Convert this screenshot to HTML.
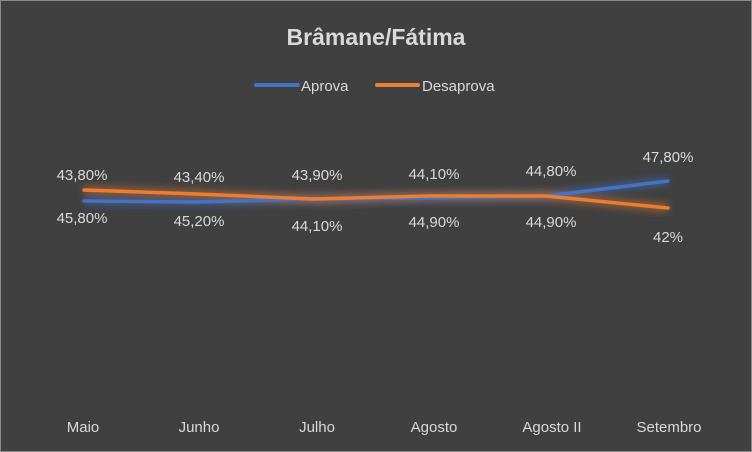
<!DOCTYPE html>
<html><head><meta charset="utf-8"><style>
html,body{margin:0;padding:0;background:#404040;}
svg{display:block}
text{font-family:"Liberation Sans",sans-serif;fill:#d9d9d9;}
</style></head><body>
<svg width="752" height="452" viewBox="0 0 752 452">
<defs><filter id="g" x="-10%" y="-50%" width="120%" height="200%"><feGaussianBlur stdDeviation="4"/></filter></defs>
<rect x="0.5" y="0.5" width="751" height="451" fill="#404040" stroke="#8c8c8c"/>
<text x="376" y="45" text-anchor="middle" font-size="23" font-weight="bold" fill="#e0e0e0">Brâmane/Fátima</text>
<line x1="256" y1="85" x2="298" y2="85" stroke="#4472c4" stroke-width="4" stroke-linecap="round"/>
<text x="301" y="91" font-size="15">Aprova</text>
<line x1="377" y1="85" x2="418" y2="85" stroke="#ed7d31" stroke-width="4" stroke-linecap="round"/>
<text x="422" y="91" font-size="15">Desaprova</text>
<polyline points="84,201 197,202 313,199 429,198 546,196 668,181" fill="none" stroke="#4472c4" stroke-width="8" opacity="0.5" filter="url(#g)"/>
<polyline points="84,190 197,194 313,199 429,196 546,196 668,208" fill="none" stroke="#ed7d31" stroke-width="8" opacity="0.5" filter="url(#g)"/>
<polyline points="84,201 197,202 313,199 429,198 546,196 668,181" fill="none" stroke="#4472c4" stroke-width="3.5" stroke-linejoin="round" stroke-linecap="round"/>
<polyline points="84,190 197,194 313,199 429,196 546,196 668,208" fill="none" stroke="#ed7d31" stroke-width="3.5" stroke-linejoin="round" stroke-linecap="round"/>
<g font-size="15" text-anchor="middle">
<text x="82" y="180">43,80%</text>
<text x="199" y="182">43,40%</text>
<text x="317" y="180">43,90%</text>
<text x="434" y="179">44,10%</text>
<text x="551" y="176">44,80%</text>
<text x="668" y="162">47,80%</text>
<text x="82" y="223">45,80%</text>
<text x="199" y="226">45,20%</text>
<text x="317" y="231">44,10%</text>
<text x="434" y="227">44,90%</text>
<text x="551" y="227">44,90%</text>
<text x="668" y="242">42%</text>
</g>
<g font-size="15" text-anchor="middle">
<text x="83" y="432">Maio</text>
<text x="199" y="432">Junho</text>
<text x="317" y="432">Julho</text>
<text x="434" y="432">Agosto</text>
<text x="552" y="432">Agosto II</text>
<text x="669" y="432">Setembro</text>
</g>
</svg>
</body></html>
